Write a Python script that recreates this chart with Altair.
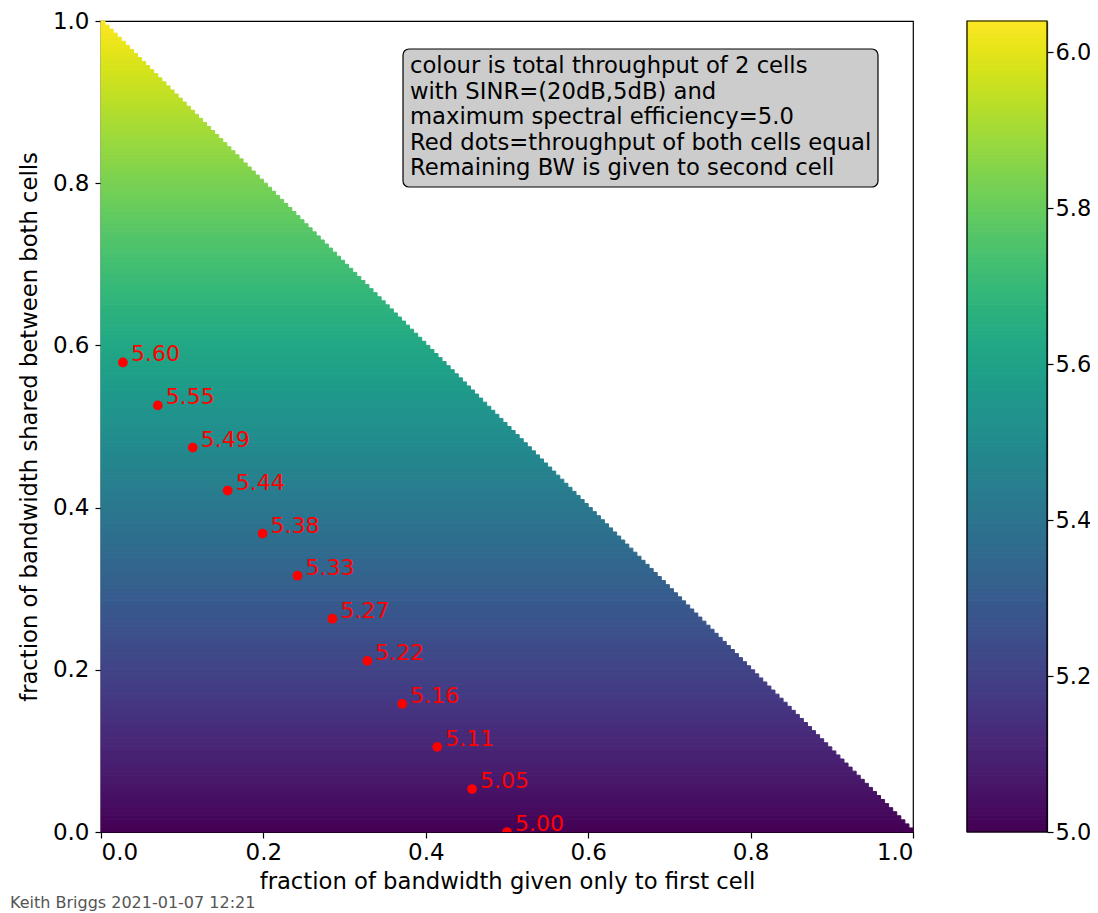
import altair as alt
import numpy as np
import pandas as pd

# ---- data ----
# red dots: (fraction given only to first cell, fraction shared, total throughput)
first_only_eq = [0.500, 0.457, 0.414, 0.371, 0.328, 0.285, 0.242, 0.199, 0.156, 0.113, 0.070, 0.027]
shared_eq = [0.000, 0.053, 0.105, 0.158, 0.211, 0.263, 0.316, 0.368, 0.421, 0.474, 0.526, 0.579]
throughput_eq = [5.00, 5.05, 5.11, 5.16, 5.22, 5.27, 5.33, 5.38, 5.44, 5.49, 5.55, 5.60]

# colour (total throughput) at shared=0 and shared=1
throughput_at_shared = [5.00, 6.04]

axis_ticks = [0.0, 0.2, 0.4, 0.6, 0.8, 1.0]
colorbar_ticks = [5.0, 5.2, 5.4, 5.6, 5.8, 6.0]

box_lines = [
    "colour is total throughput of 2 cells",
    "with SINR=(20dB,5dB) and",
    "maximum spectral efficiency=5.0",
    "Red dots=throughput of both cells equal",
    "Remaining BW is given to second cell",
]
footer = "Keith Briggs 2021-01-07 12:21"

# ---- grid of the triangular domain (first + shared <= 1) ----
n_rows = 200
i = np.arange(n_rows)
rows = pd.DataFrame({
    "y0": i / n_rows,
    "y1": (i + 1) / n_rows,
    "x0": 0.0,
    "x1": (n_rows - i) / n_rows,
})
rows["throughput"] = np.interp(rows["y0"], [0.0, 1.0], throughput_at_shared)
rows["t0"] = np.interp(rows["y0"], [0.0, 1.0], throughput_at_shared)
rows["t1"] = np.interp(rows["y1"], [0.0, 1.0], throughput_at_shared)

dots = pd.DataFrame({"x": first_only_eq, "y": shared_eq, "t": throughput_eq})

FONT = "DejaVu Sans"
W, H = 812, 811
CB_LEFT, CB_RIGHT = 866, 946   # colour bar position, px from the plot's left edge

xscale = alt.Scale(domain=[0, 1], nice=False, zero=False)
yscale = alt.Scale(domain=[0, 1], nice=False, zero=False)
cscale = alt.Scale(scheme="viridis", domain=throughput_at_shared)
cbscale = alt.Scale(domain=throughput_at_shared, nice=False, zero=False)

xaxis = alt.Axis(values=axis_ticks, format=".1f", title="fraction of bandwidth given only to first cell",
                 grid=False, tickSize=6, labelPadding=3, titlePadding=6)
yaxis = alt.Axis(values=axis_ticks, format=".1f", title="fraction of bandwidth shared between both cells",
                 grid=False, tickSize=6, labelPadding=6, titlePadding=11)

heat = alt.Chart(rows).mark_rect(strokeWidth=1).encode(
    x=alt.X("x0:Q", scale=xscale, axis=xaxis),
    x2="x1:Q",
    y=alt.Y("y0:Q", scale=yscale, axis=yaxis),
    y2="y1:Q",
    color=alt.Color("throughput:Q", scale=cscale, legend=None),
    stroke=alt.Stroke("throughput:Q", scale=cscale, legend=None),
)

points = alt.Chart(dots).mark_circle(size=95, color="#ff0000", opacity=1, clip=True).encode(
    x=alt.X("x:Q", scale=xscale),
    y=alt.Y("y:Q", scale=yscale),
)

labels = alt.Chart(dots).mark_text(align="left", baseline="middle", dx=8, dy=-8, fontSize=22,
                                   color="#ff0000", font=FONT, clip=True).encode(
    x=alt.X("x:Q", scale=xscale),
    y=alt.Y("y:Q", scale=yscale),
    text=alt.Text("t:Q", format=".2f"),
)

one = pd.DataFrame({"k": [0]})
box = alt.Chart(one).mark_rect(fill="#cccccc", stroke="black", strokeWidth=1.2, cornerRadius=6).encode(
    x=alt.value(302), x2=alt.value(777), y=alt.value(28), y2=alt.value(166)
)
box_text = alt.Chart(one).mark_text(align="left", baseline="alphabetic", fontSize=22.7, lineHeight=25.5,
                                    font=FONT, color="black").encode(
    x=alt.value(309), y=alt.value(52), text=alt.value(box_lines)
)
foot = alt.Chart(one).mark_text(align="left", baseline="middle", fontSize=16, font=FONT,
                                color="#555555").encode(
    x=alt.value(-91), y=alt.value(882), text=alt.value(footer)
)

main = alt.layer(heat, points, labels, box, box_text, foot)

# colour bar: same rows, placed on a throughput scale at the right
cbar = alt.Chart(rows).mark_rect(strokeWidth=1).encode(
    x=alt.value(CB_LEFT), x2=alt.value(CB_RIGHT),
    y=alt.Y("t0:Q", scale=cbscale,
            axis=alt.Axis(orient="right", offset=CB_RIGHT - W, values=colorbar_ticks, format=".1f",
                          title=None, grid=False, tickSize=6, labelPadding=2, labelFontSize=22.5)),
    y2="t1:Q",
    color=alt.Color("throughput:Q", scale=cscale, legend=None),
    stroke=alt.Stroke("throughput:Q", scale=cscale, legend=None),
)
cbar_frame = alt.Chart(one).mark_rect(fill=None, stroke="black", strokeWidth=1.2).encode(
    x=alt.value(CB_LEFT), x2=alt.value(CB_RIGHT), y=alt.value(0), y2=alt.value(H)
)
cb = alt.layer(cbar, cbar_frame)

chart = alt.layer(main, cb).resolve_scale(y="independent").properties(
    width=W, height=H,
    autosize=alt.AutoSizeParams(type="none"),
    padding={"left": 93, "top": 13, "right": 177, "bottom": 80},
).configure_view(stroke="black", strokeWidth=1.2).configure_axis(
    labelFontSize=23, titleFontSize=22.7, labelFont=FONT, titleFont=FONT,
    labelColor="black", titleColor="black", tickColor="black", domainColor="black",
    titleFontWeight="normal", domainWidth=1.2, tickWidth=1.2,
)

chart.save("out.html", embed_options={"renderer": "svg", "actions": False})
